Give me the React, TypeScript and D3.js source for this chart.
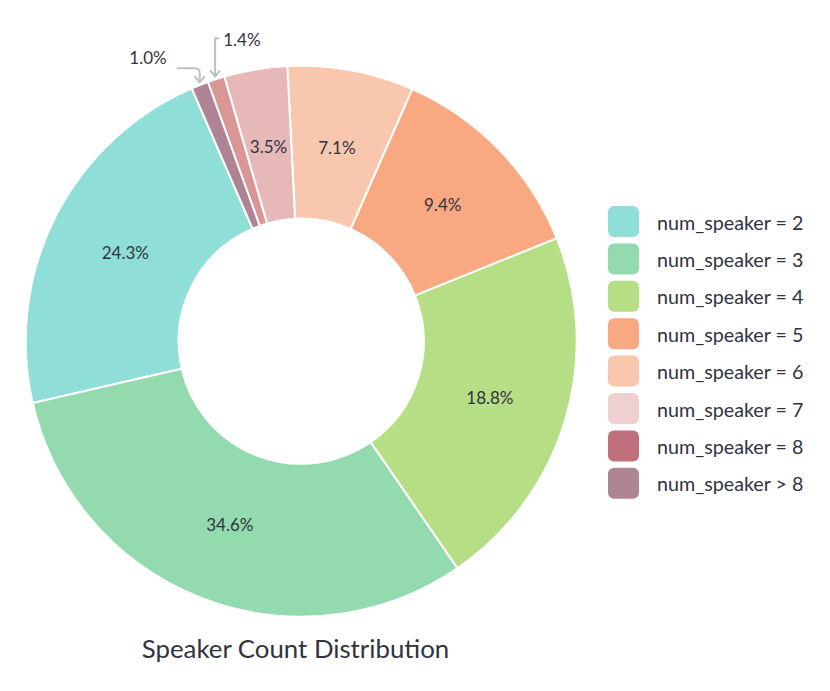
import React from "react";
import * as d3 from "d3";

const categories = [
  "num_speaker = 2",
  "num_speaker = 3",
  "num_speaker = 4",
  "num_speaker = 5",
  "num_speaker = 6",
  "num_speaker = 7",
  "num_speaker = 8",
  "num_speaker > 8",
];
// slice sizes as drawn (share of the circle)
const shares = [22.1, 31.0, 21.5, 12.3, 7.4, 3.7, 1.0, 1.0];
// percentage texts printed on the chart
const percentLabels = ["24.3%", "34.6%", "18.8%", "9.4%", "7.1%", "3.5%", "1.4%", "1.0%"];
const sliceColors = ["#8FDED8", "#93DBAF", "#B6DE84", "#F8A982", "#F9C7AE", "#E6B8B7", "#DA9595", "#AE8494"];
const legendColors = ["#8FDED8", "#93DBAF", "#B6DE84", "#F8A982", "#F9C7AE", "#EFCFD0", "#C0707D", "#AE8594"];
const outsideIdx = [6, 7];

const W = 830;
const H = 691;
const cx = 301.2;
const cy = 341.2;
const rOuter = 275.5;
const rInner = 122.6;
const startDeg = -23.4;
const FONT = "Lato, 'Source Sans Pro', 'Noto Sans', sans-serif";
const TEXT = "#31333F";
const ARROW = "#BCC0C7";

export default function App() {
  const start = (startDeg * Math.PI) / 180;
  const pie = d3
    .pie<number>()
    .sort(null)
    .value((d) => d)
    .startAngle(start)
    .endAngle(start - 2 * Math.PI);
  const arcs = pie(shares);
  const arc = d3.arc<d3.PieArcDatum<number>>().innerRadius(rInner).outerRadius(rOuter);
  const labelArc = d3.arc<d3.PieArcDatum<number>>().innerRadius(rInner + 2).outerRadius(rOuter - 6);
  const tipArc = d3.arc<d3.PieArcDatum<number>>().innerRadius(rOuter + 3).outerRadius(rOuter + 3);

  const legendY = d3.scaleLinear().domain([0, 1]).range([206, 243.4]);

  const arrowHead = (x: number, y: number) =>
    `M${x - 5},${y - 6} L${x},${y} L${x + 5},${y - 6}`;

  return (
    <svg
      width={W}
      height={H}
      style={{ position: "absolute", left: 0, top: 0, background: "#fff" }}
      fontFamily={FONT}
    >
      <g transform={`translate(${cx},${cy})`}>
        {arcs.map((a, i) => (
          <path key={i} d={arc(a) || ""} fill={sliceColors[i]} stroke="#fff" strokeWidth={2} />
        ))}
        {arcs.map((a, i) => {
          if (outsideIdx.includes(i)) return null;
          const [x, y] = labelArc.centroid(a);
          return (
            <text
              key={"t" + i}
              x={x}
              y={y}
              textAnchor="middle"
              dominantBaseline="central"
              fontSize={17}
              fill={TEXT}
            >
              {percentLabels[i]}
            </text>
          );
        })}
        {/* annotation for num_speaker = 8 */}
        {(() => {
          const [tx, ty] = tipArc.centroid(arcs[6]);
          const topY = ty - 38;
          return (
            <g>
              <path
                d={`M${tx + 4},${topY} L${tx},${topY} L${tx},${ty}`}
                fill="none"
                stroke={ARROW}
                strokeWidth={2}
              />
              <path d={arrowHead(tx, ty)} fill="none" stroke={ARROW} strokeWidth={2} />
              <text x={tx + 8} y={topY + 1} dominantBaseline="central" fontSize={17} fill={TEXT}>
                {percentLabels[6]}
              </text>
            </g>
          );
        })()}
        {/* annotation for num_speaker > 8 */}
        {(() => {
          const [tx0, ty] = tipArc.centroid(arcs[7]);
          const tx = tx0 + 1;
          const lineY = ty - 14;
          return (
            <g>
              <path
                d={`M${tx - 23},${lineY} L${tx - 5},${lineY} Q${tx},${lineY} ${tx},${lineY + 5} L${tx},${ty}`}
                fill="none"
                stroke={ARROW}
                strokeWidth={2}
              />
              <path d={arrowHead(tx, ty)} fill="none" stroke={ARROW} strokeWidth={2} />
              <text
                x={tx - 33}
                y={lineY - 11}
                textAnchor="end"
                dominantBaseline="central"
                fontSize={17}
                fill={TEXT}
              >
                {percentLabels[7]}
              </text>
            </g>
          );
        })()}
      </g>

      <text x={295.5} y={658} textAnchor="middle" fontSize={25.8} fill={TEXT}>
        Speaker Count Distribution
      </text>

      <g>
        {categories.map((c, i) => (
          <g key={c} transform={`translate(608,${legendY(i)})`}>
            <rect width={31} height={31} rx={6} fill={legendColors[i]} />
            <text x={49} y={16} dominantBaseline="central" fontSize={19.7} fill={TEXT}>
              {c}
            </text>
          </g>
        ))}
      </g>
    </svg>
  );
}
